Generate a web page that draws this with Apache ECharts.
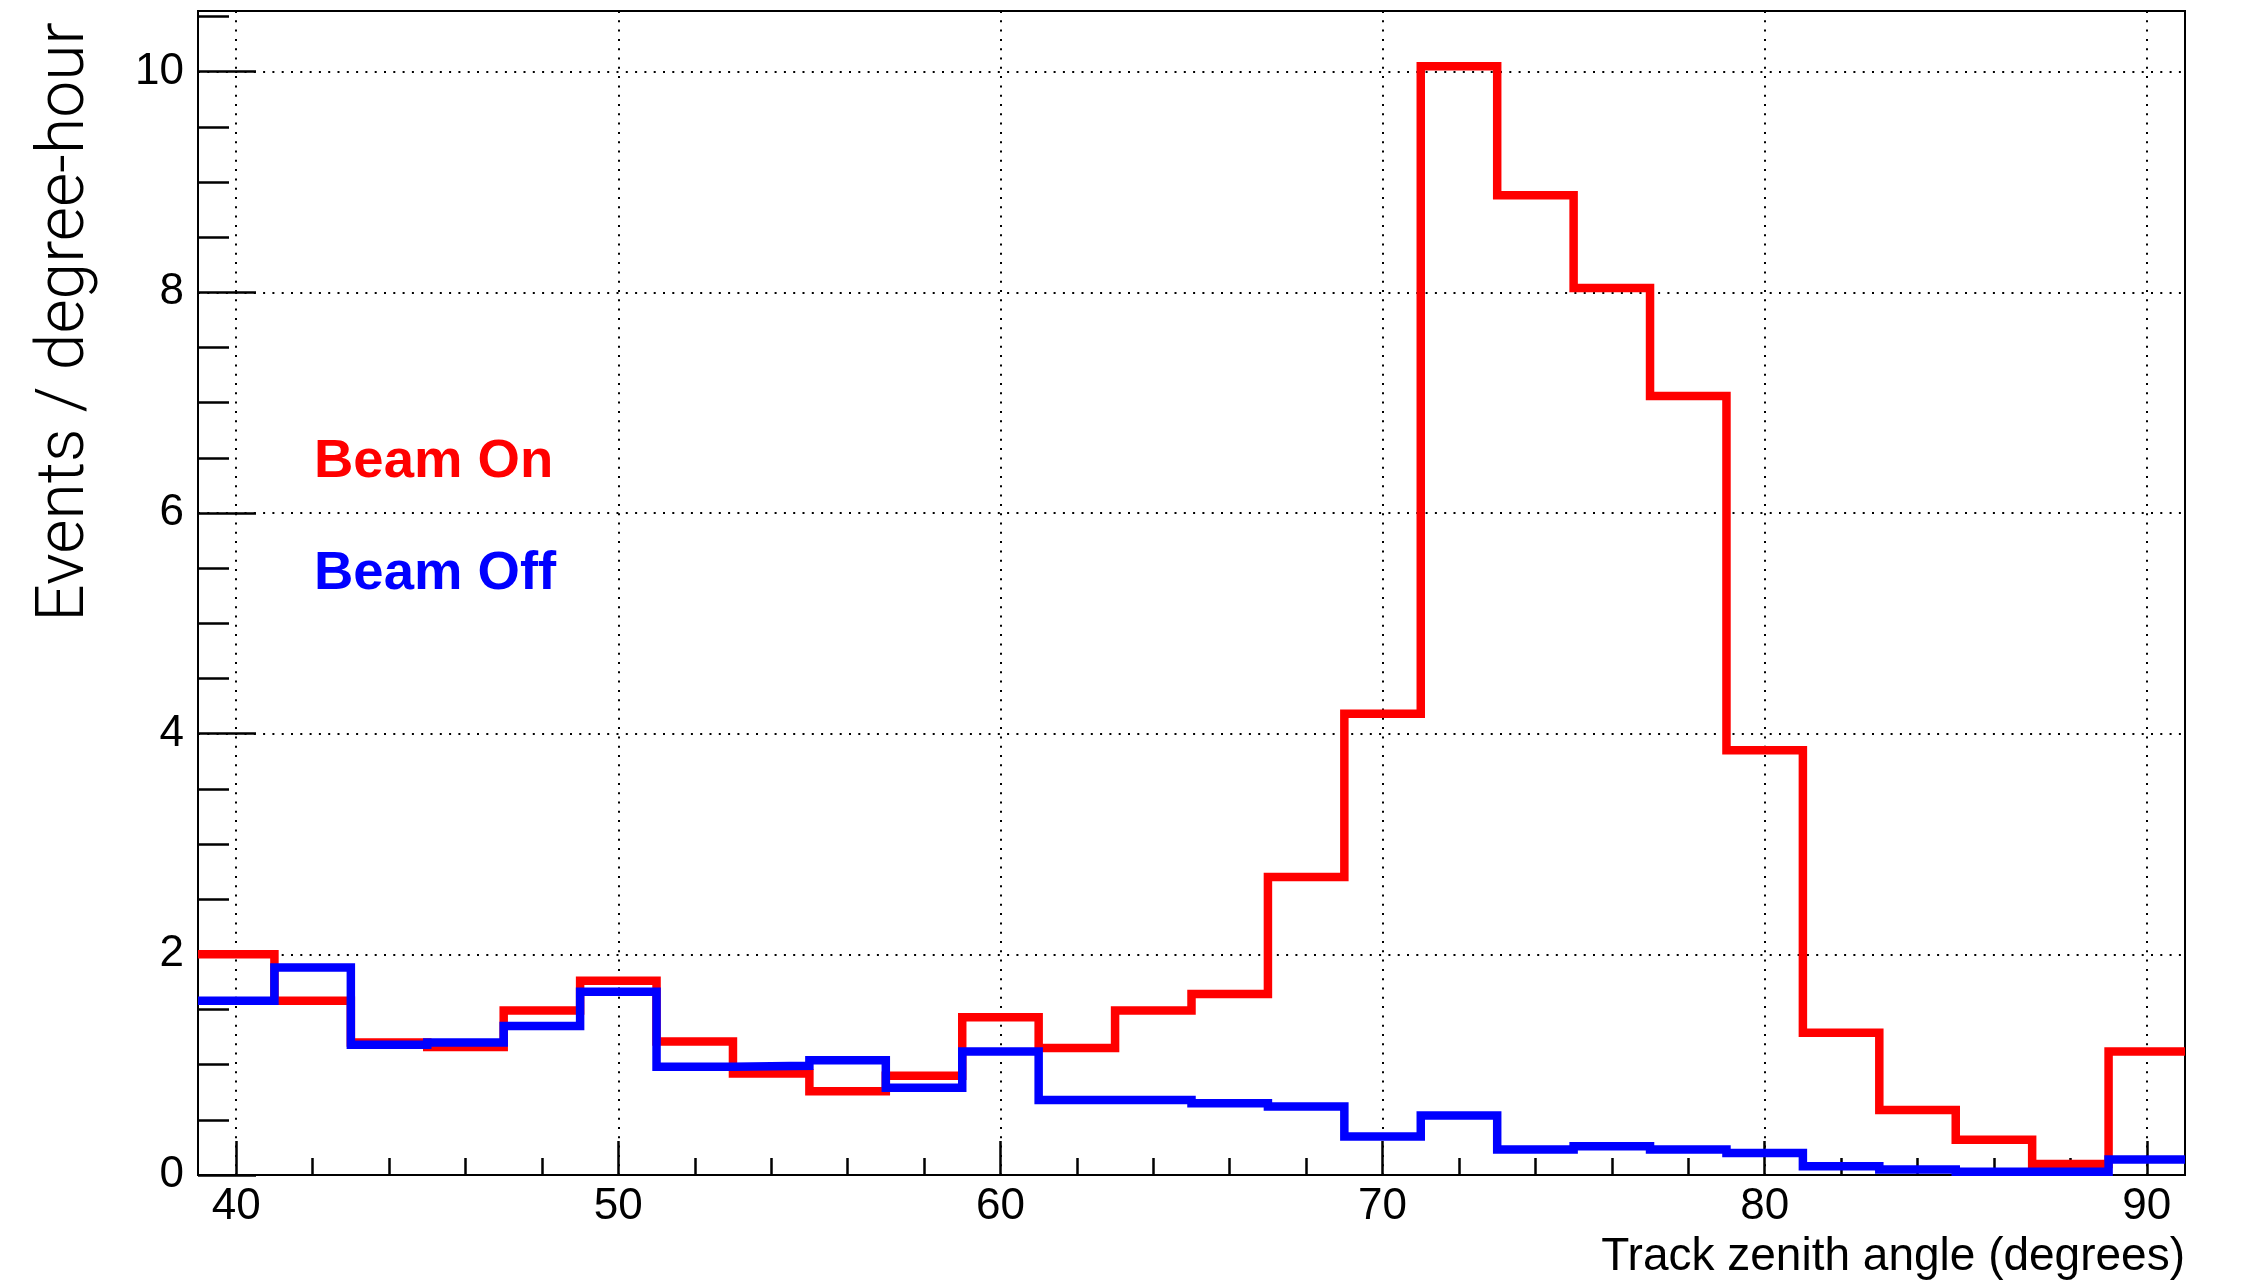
<!DOCTYPE html>
<html>
<head>
<meta charset="utf-8">
<script src="https://cdn.jsdelivr.net/npm/echarts@6/dist/echarts.min.js"></script>
<style>
  html, body { margin: 0; padding: 0; background: #fff; }
  #chart { width: 2254px; height: 1283px; }
</style>
</head>
<body>
<div id="chart"></div>
<script>
// Histogram bins: lower edges (degrees), each bin 2 degrees wide
const binLow = [39, 41, 43, 45, 47, 49, 51, 53, 55, 57, 59, 61, 63,
                65, 67, 69, 71, 73, 75, 77, 79, 81, 83, 85, 87, 89];
const binWidth = 2;

// Events per degree-hour in each bin
const beamOn = [2.00, 1.58, 1.20, 1.16, 1.49, 1.76, 1.21, 0.92, 0.76, 0.90, 1.43, 1.15, 1.49,
                1.64, 2.70, 4.18, 10.05, 8.88, 8.04, 7.06, 3.85, 1.29, 0.59, 0.32, 0.10, 1.12];
const beamOff = [1.58, 1.88, 1.18, 1.20, 1.35, 1.66, 0.98, 0.99, 1.04, 0.79, 1.12, 0.68, 0.68,
                 0.65, 0.62, 0.35, 0.54, 0.23, 0.26, 0.23, 0.20, 0.08, 0.05, 0.03, 0.03, 0.14];

// Axis ticks
const xMajorTicks = [40, 50, 60, 70, 80, 90];
const xMinorTicks = [40, 42, 44, 46, 48, 50, 52, 54, 56, 58, 60, 62, 64, 66, 68, 70,
                     72, 74, 76, 78, 80, 82, 84, 86, 88, 90];
const yMajorTicks = [0, 2, 4, 6, 8, 10];
const yMinorTicks = [0.5, 1, 1.5, 2, 2.5, 3, 3.5, 4, 4.5, 5, 5.5, 6, 6.5, 7, 7.5, 8,
                     8.5, 9, 9.5, 10, 10.5];

const xRange = [39, 91];
const yRange = [0, 10.55];

// Step outline: one point per bin lower edge, plus the closing upper edge
function histPoints(vals) {
  const pts = binLow.map((x, i) => [x, vals[i]]);
  pts.push([binLow[binLow.length - 1] + binWidth, vals[vals.length - 1]]);
  return pts;
}

const labelFont = { fontFamily: 'Liberation Sans, Arial, sans-serif', fontSize: 44, color: '#000' };
const tickStyle = { color: '#000', width: 2.5 };
const gridDots = { color: '#000', width: 2, type: [2, 7.3] };

const chart = echarts.init(document.getElementById('chart'), null, { renderer: 'canvas' });

chart.setOption({
  animation: false,
  backgroundColor: '#fff',
  grid: {
    left: 198, right: 69, top: 11, bottom: 108,
    show: true, borderColor: '#000', borderWidth: 2, backgroundColor: 'transparent'
  },
  legend: {
    orient: 'vertical',
    left: 304, top: 429,
    icon: 'none',
    itemWidth: 0,
    itemGap: 57,
    selectedMode: false,
    textStyle: { fontFamily: 'Liberation Sans, Arial, sans-serif', fontWeight: 'bold', fontSize: 54.5 },
    data: [
      { name: 'Beam On', textStyle: { color: '#ff0000' } },
      { name: 'Beam Off', textStyle: { color: '#0000ff' } }
    ]
  },
  xAxis: [
    {
      type: 'value', min: xRange[0], max: xRange[1], position: 'bottom',
      axisLine: { show: true, lineStyle: { color: '#000', width: 2 } },
      axisTick: { show: true, inside: true, length: 34, lineStyle: tickStyle, customValues: xMajorTicks },
      axisLabel: Object.assign({ margin: 10, customValues: xMajorTicks }, labelFont),
      splitLine: { show: true, lineStyle: gridDots }
    },
    {
      type: 'value', min: xRange[0], max: xRange[1], position: 'bottom',
      axisLine: { show: false },
      axisTick: { show: true, inside: true, length: 17, lineStyle: tickStyle, customValues: xMinorTicks },
      axisLabel: { show: false },
      splitLine: { show: false }
    }
  ],
  yAxis: [
    {
      type: 'value', min: yRange[0], max: yRange[1], position: 'left',
      axisLine: { show: true, lineStyle: { color: '#000', width: 2 } },
      axisTick: { show: true, inside: true, length: 58, lineStyle: tickStyle, customValues: yMajorTicks },
      axisLabel: Object.assign({ margin: 14, customValues: yMajorTicks }, labelFont),
      splitLine: { show: true, lineStyle: gridDots }
    },
    {
      type: 'value', min: yRange[0], max: yRange[1], position: 'left',
      axisLine: { show: false },
      axisTick: { show: true, inside: true, length: 31, lineStyle: tickStyle, customValues: yMinorTicks },
      axisLabel: { show: false },
      splitLine: { show: false }
    }
  ],
  graphic: [
    {
      type: 'text', x: 2185, y: 1257,
      style: {
        text: 'Track zenith angle (degrees)',
        font: '46px "Liberation Sans", Arial, sans-serif',
        fill: '#000', textAlign: 'right', textVerticalAlign: 'middle'
      }
    },
    {
      type: 'text', x: 66, y: 322, rotation: Math.PI / 2,
      style: {
        text: 'Events / degree-hour',
        font: '300 66px Roboto, "Open Sans", sans-serif',
        fill: '#000', textAlign: 'center', textVerticalAlign: 'middle'
      }
    }
  ],
  series: [
    {
      name: 'Beam On', type: 'line', step: 'end',
      xAxisIndex: 0, yAxisIndex: 0,
      data: histPoints(beamOn),
      symbol: 'none', showSymbol: false,
      color: '#ff0000',
      lineStyle: { color: '#ff0000', width: 8.5, join: 'miter', cap: 'butt' },
      z: 3
    },
    {
      name: 'Beam Off', type: 'line', step: 'end',
      xAxisIndex: 0, yAxisIndex: 0,
      data: histPoints(beamOff),
      symbol: 'none', showSymbol: false,
      color: '#0000ff',
      lineStyle: { color: '#0000ff', width: 8.5, join: 'miter', cap: 'butt' },
      z: 4
    }
  ]
});
</script>
</body>
</html>
